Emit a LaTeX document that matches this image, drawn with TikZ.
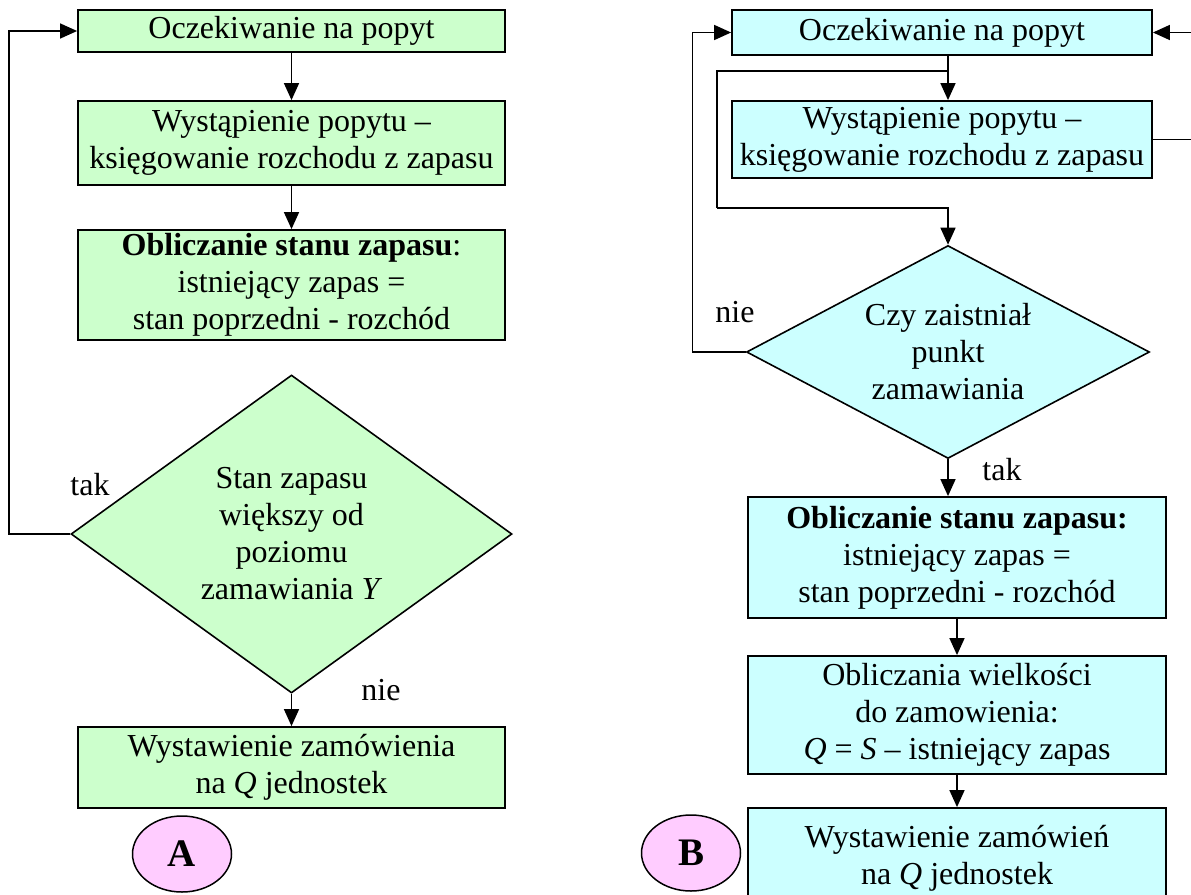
\documentclass[tikz,border=0pt]{standalone}
\usepackage{fontspec}
\setmainfont{Liberation Serif}
\definecolor{boxgreen}{RGB}{204, 255, 204}
\definecolor{boxcyan}{RGB}{204, 255, 255}
\definecolor{markpink}{RGB}{255, 204, 255}
\usetikzlibrary{shapes.geometric, arrows.meta, positioning, calc}
\tikzset{
  txt/.style={font=\fontsize{32}{37}\selectfont, align=center, inner sep=0pt},
  stepbox/.style={txt, draw, rectangle, line width=1.8pt},
  askbox/.style={txt, draw, diamond, line width=1.6pt},
  markbox/.style={draw, ellipse, fill=markpink, line width=1.5pt, inner sep=0pt,
    minimum width=99pt, minimum height=76pt, font=\fontsize{39}{44}\selectfont\bfseries},
  arr/.style={line width=1.5pt, -{Triangle[length=17pt, width=15pt]}},
  lbl/.style={font=\fontsize{32}{37}\selectfont, inner sep=0pt}
}

\begin{document}
\begin{tikzpicture}[x=1pt, y=-1pt]
  \useasboundingbox (0,0) rectangle (1191,894);
  \clip (0,0) rectangle (1191,894);

  % A
  \node[stepbox, fill=boxgreen, minimum width=427pt, minimum height=42pt] (L1) at (291.5,31) {Oczekiwanie na popyt};
  \node[stepbox, fill=boxgreen, minimum width=427pt, minimum height=84pt] (L2) at (291.5,143) {Wystąpienie popytu –\\księgowanie rozchodu z zapasu};
  \node[stepbox, fill=boxgreen, minimum width=427pt, minimum height=110pt] (L3) at (291.5,285) {\textbf{Obliczanie stanu zapasu}:\\istniejący zapas =\\stan poprzedni - rozchód};
  \node[askbox, fill=boxgreen, aspect=1.39, minimum width=441pt, minimum height=318pt] (LD) at (291.5,534) {Stan zapasu\\większy od\\poziomu\\zamawiania \textit{Y}};
  \node[stepbox, fill=boxgreen, minimum width=427pt, minimum height=81pt] (L4) at (291.5,767.5) {Wystawienie zamówienia\\na \textit{Q} jednostek};
  \node[markbox] (A) at (182,854) {A};

  \draw[arr] (L1) -- (L2);
  \draw[arr] (L2) -- (L3);
  \draw[arr] (LD.south) -- (L4);
  \draw[arr] (LD.west) -- ++(-61,0) |- (L1.west);
  \node[lbl] (ltak) at (90,485) {tak};
  \node[lbl] (lnie) at (381,690) {nie};

  % B
  \node[stepbox, fill=boxcyan, minimum width=420pt, minimum height=45pt] (R1) at (942,32.5) {Oczekiwanie na popyt};
  \node[stepbox, fill=boxcyan, minimum width=420pt, minimum height=77pt] (R2) at (942,139.5) {Wystąpienie popytu –\\księgowanie rozchodu z zapasu};
  \node[askbox, fill=boxcyan, aspect=1.89, minimum width=403pt, minimum height=213pt] (RD) at (948,352) {Czy zaistniał\\punkt\\zamawiania};
  \node[stepbox, fill=boxcyan, minimum width=418pt, minimum height=121pt] (R3) at (957,557.5) {\textbf{Obliczanie stanu zapasu:}\\istniejący zapas =\\stan poprzedni - rozchód};
  \node[stepbox, fill=boxcyan, minimum width=418pt, minimum height=118pt] (R4) at (957,715) {Obliczania wielkości\\do zamowienia:\\\textit{Q} = \textit{S} – istniejący zapas};
  \node[stepbox, fill=boxcyan, minimum width=418pt, minimum height=100pt] (R5) at (957,858) {Wystawienie zamówień\\na \textit{Q} jednostek};
  \node[markbox] (B) at (691,853) {B};

  \coordinate (rsplit) at (RD.north |- 0,71);
  \draw[arr] (R1.south -| RD.north) -- (R2.north -| RD.north);
  \draw[line width=1.5pt] (rsplit) -| (717,208);
  \draw[arr] (717,208) -| (RD.north);
  \draw[arr] (RD.west) -- ++(-53,0) |- (R1.west);
  \draw[arr] (R2.east) -- ++(60,0) |- (R1.east);
  \draw[arr] (RD.south) -- (RD.south |- R3.north);
  \draw[arr] (R3) -- (R4);
  \draw[arr] (R4) -- (R5);
  \node[lbl] (rnie) at (735,312) {nie};
  \node[lbl] (rtak) at (1002,470) {tak};
\end{tikzpicture}
\end{document}
